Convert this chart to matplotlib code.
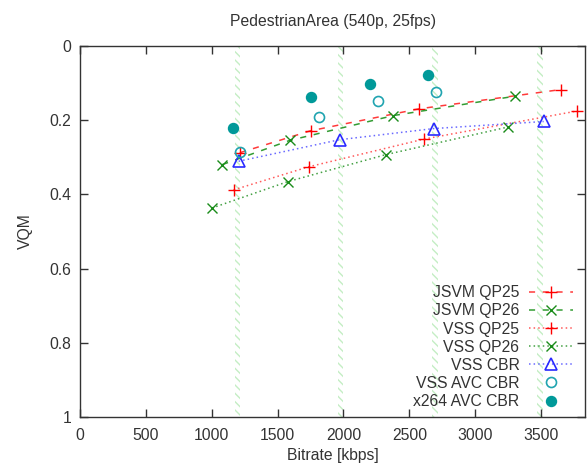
import numpy as np
import matplotlib
matplotlib.use("Agg")
import matplotlib.pyplot as plt

plt.rcParams["font.family"] = ["Liberation Sans", "DejaVu Sans"]
plt.rcParams["hatch.linewidth"] = 1.0

# Données
jsvm25_x = [1214, 1750, 2571, 3649]
jsvm25_y = [0.288, 0.229, 0.170, 0.118]
jsvm26_x = [1081, 1591, 2379, 3298]
jsvm26_y = [0.320, 0.255, 0.188, 0.136]
vss25_x = [1167, 1735, 2614, 3768]
vss25_y = [0.388, 0.326, 0.251, 0.176]
vss26_x = [1002, 1576, 2323, 3245]
vss26_y = [0.437, 0.366, 0.293, 0.219]
vsscbr_x = [1205, 1970, 2684, 3518]
vsscbr_y = [0.311, 0.253, 0.223, 0.204]
avc_x = [1214, 1811, 2263, 2705]
avc_y = [0.286, 0.193, 0.150, 0.125]
x264_x = [1164, 1755, 2200, 2644]
x264_y = [0.221, 0.138, 0.103, 0.080]

# bandes verticales (débits cibles CBR)
bands = [1195, 1975, 2695, 3490]
band_width = 40

xticks = [0, 500, 1000, 1500, 2000, 2500, 3000, 3500]
yticks = [0, 0.2, 0.4, 0.6, 0.8, 1]
ytick_labels = ["0", "0.2", "0.4", "0.6", "0.8", "1"]

txt = "#333333"
fs = 11.3

fig = plt.figure(figsize=(5.87, 4.75), dpi=100)
ax = fig.add_axes([0.1358, 0.1215, 0.8616, 0.7823])

for b in bands:
    ax.axvspan(b - band_width / 2, b + band_width / 2, facecolor="none",
               edgecolor="#c4eec4", hatch="\\\\\\\\", linewidth=0, zorder=1)

ax.plot(jsvm25_x, jsvm25_y, color="#ff3a3a", ls=(0, (4, 5)), lw=1.1,
        marker="+", ms=8, mew=1.0, mec="#ff0000", label="JSVM QP25", zorder=3)
ax.plot(jsvm26_x, jsvm26_y, color="#339c33", ls=(0, (4, 5)), lw=1.1,
        marker="x", ms=6.5, mew=1.0, mec="#1a8c1a", label="JSVM QP26", zorder=3)
ax.plot(vss25_x, vss25_y, color="#ff5a5a", ls=(0, (1, 2)), lw=1.1,
        marker="+", ms=8, mew=1.0, mec="#ff0000", label="VSS QP25", zorder=3)
ax.plot(vss26_x, vss26_y, color="#44a044", ls=(0, (1, 2)), lw=1.1,
        marker="x", ms=6.5, mew=1.0, mec="#1a8c1a", label="VSS QP26", zorder=3)
ax.plot(vsscbr_x, vsscbr_y, color="#6a6aff", ls=(0, (1, 2)), lw=1.1,
        marker="^", ms=8.5, mew=1.2, mfc="none", mec="#2a2aff", label="VSS CBR", zorder=3)
ax.plot(avc_x, avc_y, color="#20a4b0", ls="none",
        marker="o", ms=7.2, mew=1.2, mfc="none", label="VSS AVC CBR", zorder=3)
ax.plot(x264_x, x264_y, color="#009999", ls="none",
        marker="o", ms=7.2, label="x264 AVC CBR", zorder=3)

ax.set_xlim(0, 3835)
ax.set_ylim(1, 0)
ax.set_xticks(xticks)
ax.set_yticks(yticks)
ax.set_yticklabels(ytick_labels)
ax.tick_params(direction="in", length=6, width=1, colors="#333333",
               labelsize=fs, top=True, right=True)
ax.tick_params(axis="x", pad=8)
ax.tick_params(axis="y", pad=6)
for s in ax.spines.values():
    s.set_color("#333333")
    s.set_linewidth(1)

ax.set_title("PedestrianArea (540p, 25fps)", fontsize=fs, color=txt, pad=14)
ax.set_xlabel("Bitrate [kbps]", fontsize=fs, color=txt, labelpad=3)
ax.set_ylabel("VQM", fontsize=fs, color=txt, labelpad=12)

leg = ax.legend(loc="lower right", bbox_to_anchor=(0.975, 0.022),
                markerfirst=False, frameon=False, numpoints=1,
                handlelength=2.8, handletextpad=0.6, labelspacing=0.2,
                borderpad=0, borderaxespad=0, fontsize=fs)
for t in leg.get_texts():
    t.set_color(txt)

fig.savefig("out.png", dpi=100)
